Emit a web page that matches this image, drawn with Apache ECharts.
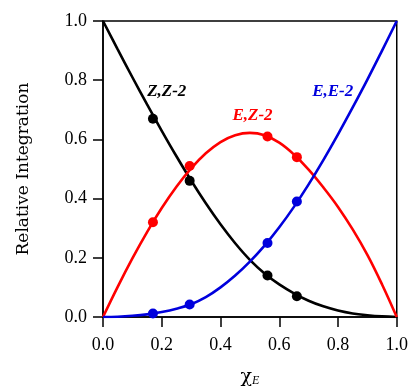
<!DOCTYPE html>
<html>
<head>
<meta charset="utf-8">
<script src="https://cdn.jsdelivr.net/npm/echarts@6/dist/echarts.min.js"></script>
<style>
  html, body { margin: 0; padding: 0; background: #fff; }
  #chart { width: 411px; height: 392px; }
</style>
</head>
<body>
<div id="chart"></div>
<script>
// fitted curves
const fitX = [0, 0.05, 0.1, 0.15, 0.2, 0.25, 0.3, 0.35, 0.4, 0.45, 0.5, 0.55, 0.6, 0.65, 0.7, 0.75, 0.8, 0.85, 0.9, 0.95, 1.0]
const fitZZ = [1.0, 0.904, 0.81, 0.718, 0.629, 0.543, 0.461, 0.384, 0.313, 0.249, 0.193, 0.147, 0.11, 0.08, 0.055, 0.036, 0.022, 0.012, 0.006, 0.002, 0]
const fitEZ = [0, 0.102, 0.198, 0.287, 0.368, 0.44, 0.502, 0.553, 0.591, 0.614, 0.622, 0.614, 0.589, 0.549, 0.498, 0.438, 0.372, 0.296, 0.21, 0.11, 0]
const fitEE = [0, 0.001, 0.004, 0.009, 0.017, 0.028, 0.043, 0.067, 0.1, 0.14, 0.187, 0.241, 0.303, 0.372, 0.448, 0.53, 0.617, 0.708, 0.802, 0.9, 1.0]

// measured points
const ptX = [0.17, 0.295, 0.56, 0.66]
const ptZZ = [0.67, 0.46, 0.14, 0.07]
const ptEZ = [0.32, 0.51, 0.61, 0.54]
const ptEE = [0.012, 0.042, 0.25, 0.39]

// curve labels: [x, y, text, colour]
const curveLabels = [
  [0.217, 0.763, 'Z,Z-2', '#000000'],
  [0.509, 0.682, 'E,Z-2', '#ff0000'],
  [0.782, 0.763, 'E,E-2', '#0000dd']
]

const xTicks = { min: 0, max: 1, interval: 0.2 }
const yTicks = { min: 0, max: 1, interval: 0.2 }

const serif = 'Liberation Serif'
const wideSerif = 'DejaVu Serif'
const zip = (xs, ys) => xs.map((x, i) => [x, ys[i]])

const chart = echarts.init(document.getElementById('chart'), null, { renderer: 'canvas' })

function fitSeries(name, ys, color) {
  return {
    name: name,
    type: 'line',
    smooth: 0.4,
    showSymbol: false,
    symbol: 'none',
    lineStyle: { color: color, width: 2.6 },
    data: zip(fitX, ys),
    z: 2
  }
}

function pointSeries(name, ys, color) {
  return {
    name: name,
    type: 'scatter',
    symbolSize: 10,
    itemStyle: { color: color, opacity: 1 },
    data: zip(ptX, ys),
    z: 3
  }
}

const option = {
  animation: false,
  backgroundColor: '#ffffff',
  grid: {
    left: 103,
    right: 14,
    top: 21,
    bottom: 75,
    show: true,
    borderColor: '#000',
    borderWidth: 1.5,
    backgroundColor: 'transparent'
  },
  xAxis: {
    type: 'value',
    min: xTicks.min,
    max: xTicks.max,
    interval: xTicks.interval,
    name: '{a|χ}{b|E}',
    nameLocation: 'middle',
    nameGap: 50,
    nameTextStyle: {
      rich: {
        a: { fontFamily: wideSerif, fontSize: 19, color: '#000' },
        b: { fontFamily: serif, fontSize: 12, fontStyle: 'italic', color: '#000', verticalAlign: 'bottom', padding: [8, 0, 0, 0] }
      }
    },
    axisLine: { lineStyle: { color: '#000', width: 1.5 } },
    axisTick: { length: 10, lineStyle: { color: '#000', width: 1.5 } },
    axisLabel: {
      margin: 19,
      fontFamily: serif,
      fontSize: 18,
      color: '#000',
      formatter: v => v.toFixed(1)
    },
    splitLine: { show: false }
  },
  yAxis: {
    type: 'value',
    min: yTicks.min,
    max: yTicks.max,
    interval: yTicks.interval,
    name: 'Relative Integration',
    nameLocation: 'middle',
    nameGap: 71,
    nameTextStyle: { fontFamily: wideSerif, fontSize: 17, color: '#000' },
    axisLine: { lineStyle: { color: '#000', width: 1.5 } },
    axisTick: { length: 10, lineStyle: { color: '#000', width: 1.5 } },
    axisLabel: {
      margin: 16,
      fontFamily: serif,
      fontSize: 18,
      color: '#000',
      formatter: v => v.toFixed(1)
    },
    splitLine: { show: false }
  },
  series: [
    fitSeries('Z,Z fit', fitZZ, '#000000'),
    fitSeries('E,Z fit', fitEZ, '#ff0000'),
    fitSeries('E,E fit', fitEE, '#0000dd'),
    pointSeries('Z,Z', ptZZ, '#000000'),
    pointSeries('E,Z', ptEZ, '#ff0000'),
    pointSeries('E,E', ptEE, '#0000dd'),
    {
      name: 'labels',
      type: 'scatter',
      symbolSize: 1,
      silent: true,
      itemStyle: { opacity: 0 },
      data: curveLabels.map(l => ({
        value: [l[0], l[1]],
        label: {
          show: true,
          position: 'inside',
          formatter: l[2],
          fontFamily: serif,
          fontSize: 17,
          fontStyle: 'italic',
          fontWeight: 'bold',
          color: l[3],
          opacity: 1
        }
      }))
    }
  ]
}

chart.setOption(option)
</script>
</body>
</html>
